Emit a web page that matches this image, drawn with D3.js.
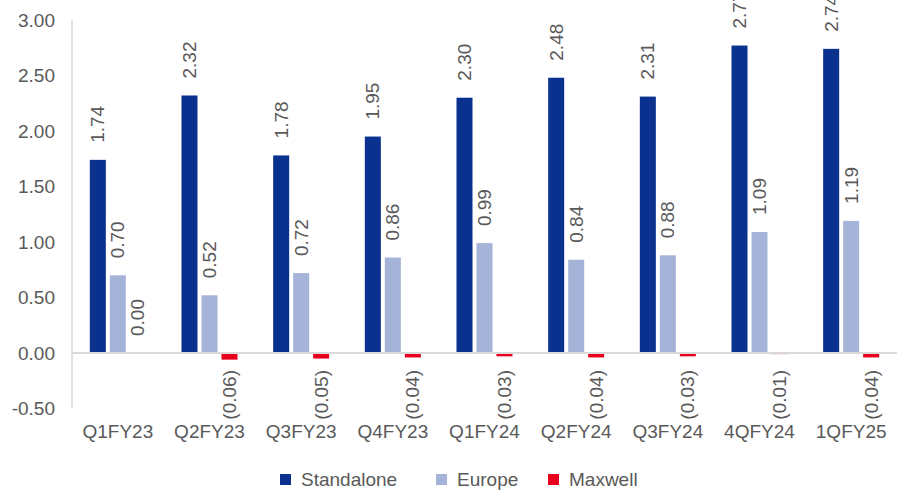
<!DOCTYPE html>
<html>
<head>
<meta charset="utf-8">
<script src="https://cdn.jsdelivr.net/npm/d3@7"></script>
<style>
  html, body { margin: 0; padding: 0; background: #fff; }
  svg { display: block; font-family: "Liberation Sans", Arial, sans-serif; }
</style>
</head>
<body>
<svg id="chart" width="904" height="493"></svg>
<script>
const categories = ["Q1FY23", "Q2FY23", "Q3FY23", "Q4FY23", "Q1FY24", "Q2FY24", "Q3FY24", "4QFY24", "1QFY25"];
const standalone = [1.74, 2.32, 1.78, 1.95, 2.30, 2.48, 2.31, 2.77, 2.74];
const europe = [0.70, 0.52, 0.72, 0.86, 0.99, 0.84, 0.88, 1.09, 1.19];
const maxwell = [0.00, -0.06, -0.05, -0.04, -0.03, -0.04, -0.03, -0.01, -0.04];
const seriesNames = ["Standalone", "Europe", "Maxwell"];
const yTicks = [-0.5, 0, 0.5, 1.0, 1.5, 2.0, 2.5, 3.0];

const colors = ["#0B318F", "#A6B3D9", "#E8001C"];
const textColor = "#595959";
const axisColor = "#D9D9D9";
const fontSize = 19;

const svg = d3.select("#chart");
const mLeft = 72, mRight = 897, mTop = 20, mBottom = 408.5;

const x = d3.scaleBand().domain(categories).range([mLeft, mRight]).padding(0);
const y = d3.scaleLinear().domain([-0.5, 3]).range([mBottom, mTop]);
const sub = d3.scaleBand().domain(seriesNames).range([-28, 28]).paddingInner(0.2);

const num = v => (v < 0 ? "-" : "") + d3.format(".2f")(Math.abs(v));

// y tick labels
svg.append("g").selectAll("text").data(yTicks).join("text")
  .attr("x", mLeft - 17)
  .attr("y", d => y(d))
  .attr("dy", "0.35em")
  .attr("text-anchor", "end")
  .attr("font-size", fontSize)
  .attr("fill", textColor)
  .text(d => num(d));

// axis line
svg.append("line")
  .attr("x1", mLeft).attr("x2", mLeft)
  .attr("y1", y(3)).attr("y2", y(-0.5))
  .attr("stroke", axisColor).attr("stroke-width", 1.5);

const seriesData = [standalone, europe, maxwell];

seriesData.forEach((vals, si) => {
  const g = svg.append("g");
  g.selectAll("rect").data(vals).join("rect")
    .attr("x", (d, i) => x(categories[i]) + x.bandwidth() / 2 + sub(seriesNames[si]))
    .attr("width", sub.bandwidth())
    .attr("y", d => y(Math.max(0, d)))
    .attr("height", d => Math.abs(y(d) - y(0)))
    .attr("fill", colors[si]);
});

svg.append("line")
  .attr("x1", mLeft).attr("x2", mRight)
  .attr("y1", y(0)).attr("y2", y(0))
  .attr("stroke", axisColor).attr("stroke-width", 2);

const fmt = v => v < 0 ? "(" + d3.format(".2f")(-v) + ")" : d3.format(".2f")(v);

seriesData.forEach((vals, si) => {
  svg.append("g").selectAll("text").data(vals).join("text")
    .attr("transform", (d, i) => {
      const cx = x(categories[i]) + x.bandwidth() / 2 + sub(seriesNames[si]) + sub.bandwidth() / 2;
      const yy = d < 0 ? y(0) + 17 : y(d) - 17;
      return `translate(${cx},${yy}) rotate(-90)`;
    })
    .attr("text-anchor", d => d < 0 ? "end" : "start")
    .attr("dy", "0.35em")
    .attr("font-size", fontSize)
    .attr("fill", textColor)
    .text(d => fmt(d));
});

// category labels
svg.append("g").selectAll("text").data(categories).join("text")
  .attr("x", d => x(d) + x.bandwidth() / 2)
  .attr("y", 438)
  .attr("text-anchor", "middle")
  .attr("font-size", fontSize)
  .attr("fill", textColor)
  .text(d => d);

// legend
const legendX = [280, 436, 548];
const lg = svg.append("g");
seriesNames.forEach((name, i) => {
  lg.append("rect")
    .attr("x", legendX[i]).attr("y", 474)
    .attr("width", 11).attr("height", 11)
    .attr("fill", colors[i]);
  lg.append("text")
    .attr("x", legendX[i] + 21).attr("y", 486)
    .attr("font-size", fontSize)
    .attr("fill", textColor)
    .text(name);
});
</script>
</body>
</html>
